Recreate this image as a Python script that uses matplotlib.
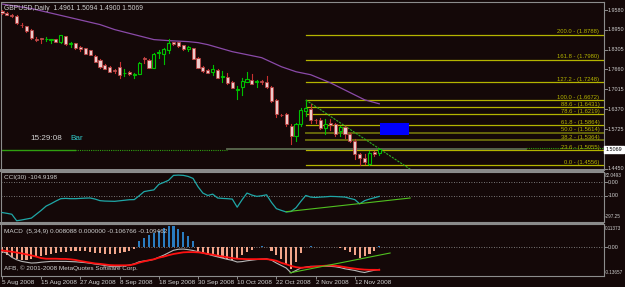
import matplotlib
matplotlib.use("Agg")
import matplotlib.pyplot as plt
from matplotlib.patches import Rectangle
import matplotlib.transforms as mtransforms
from matplotlib import font_manager

# ---------------- data ----------------
opens = [1.9564, 1.9499, 1.9433, 1.9384, 1.9100, 1.9057, 1.8927, 1.8640, 1.8665, 1.8630,
         1.8600, 1.8633, 1.8535, 1.8731, 1.8480, 1.8502, 1.8372, 1.8339, 1.8274, 1.8110,
         1.7980, 1.7816, 1.7751, 1.7653, 1.7751, 1.7545, 1.7588, 1.7490, 1.7522, 1.8020,
         1.7980, 1.7718, 1.8200, 1.8176, 1.8274, 1.8535, 1.8535, 1.8437, 1.8306, 1.8339,
         1.8045, 1.7751, 1.7653, 1.7588, 1.7653, 1.7420, 1.7424, 1.7261, 1.6990, 1.7098,
         1.7261, 1.7326, 1.7250, 1.7275, 1.7261, 1.7098, 1.6673, 1.6200, 1.6216, 1.5824,
         1.5498, 1.5889, 1.6314, 1.6379, 1.6030, 1.6020, 1.5759, 1.5922, 1.5889, 1.5661,
         1.5791, 1.5563, 1.5334, 1.4910, 1.4779, 1.4583, 1.4975, 1.4961]
highs = [1.9580, 1.9530, 1.9449, 1.9417, 1.9155, 1.9070, 1.8959, 1.8698, 1.8680, 1.8698,
         1.8640, 1.8650, 1.8780, 1.8750, 1.8535, 1.8520, 1.8404, 1.8360, 1.8290, 1.8130,
         1.8000, 1.7830, 1.7770, 1.7686, 1.7914, 1.7686, 1.7600, 1.7555, 1.7900, 1.8078,
         1.8000, 1.8208, 1.8274, 1.8339, 1.8633, 1.8550, 1.8550, 1.8450, 1.8404, 1.8360,
         1.8060, 1.7784, 1.7670, 1.7816, 1.7680, 1.7620, 1.7555, 1.7280, 1.7130, 1.7392,
         1.7588, 1.7522, 1.7326, 1.7326, 1.7457, 1.7130, 1.6690, 1.6216, 1.6240, 1.5889,
         1.5922, 1.6412, 1.6672, 1.6543, 1.6053, 1.6085, 1.6053, 1.6053, 1.5922, 1.5824,
         1.5824, 1.5596, 1.5400, 1.4942, 1.4910, 1.5007, 1.5007, 1.5094]
lows = [1.9449, 1.9410, 1.9360, 1.9123, 1.9025, 1.8880, 1.8633, 1.8567, 1.8502, 1.8567,
        1.8502, 1.8535, 1.8520, 1.8450, 1.8372, 1.8320, 1.8241, 1.8160, 1.8130, 1.7900,
        1.7720, 1.7660, 1.7570, 1.7555, 1.7392, 1.7457, 1.7480, 1.7392, 1.7510, 1.7882,
        1.7700, 1.7700, 1.8045, 1.7849, 1.8208, 1.8437, 1.8390, 1.8290, 1.8260, 1.8000,
        1.7700, 1.7588, 1.7540, 1.7490, 1.7370, 1.7261, 1.7196, 1.7050, 1.6706, 1.6836,
        1.7250, 1.7180, 1.7098, 1.7196, 1.7065, 1.6610, 1.6118, 1.6151, 1.5824, 1.5236,
        1.5334, 1.5824, 1.6151, 1.5922, 1.5922, 1.5726, 1.5563, 1.5693, 1.5498, 1.5498,
        1.5430, 1.5300, 1.4746, 1.4556, 1.4583, 1.4570, 1.4844, 1.4900]
closes = [1.9482, 1.9427, 1.9384, 1.9155, 1.9085, 1.8894, 1.8665, 1.8625, 1.8640, 1.8640,
          1.8633, 1.8560, 1.8763, 1.8469, 1.8500, 1.8339, 1.8306, 1.8176, 1.8143, 1.7914,
          1.7751, 1.7686, 1.7588, 1.7620, 1.7490, 1.7560, 1.7500, 1.7522, 1.7882, 1.8000,
          1.7718, 1.8176, 1.8210, 1.8306, 1.8502, 1.8470, 1.8404, 1.8306, 1.8372, 1.8012,
          1.7718, 1.7620, 1.7555, 1.7686, 1.7392, 1.7457, 1.7228, 1.7065, 1.7032, 1.7294,
          1.7359, 1.7196, 1.7270, 1.7255, 1.7098, 1.6641, 1.6216, 1.6190, 1.5889, 1.5498,
          1.5889, 1.6347, 1.6412, 1.6020, 1.6010, 1.5759, 1.5889, 1.5870, 1.5563, 1.5791,
          1.5563, 1.5334, 1.4910, 1.4779, 1.4648, 1.4942, 1.4910, 1.5069]

ma_idx = [0, 6, 13, 20, 23, 27, 31, 34, 38, 40, 42, 47, 53, 57, 60, 63, 67, 74, 77]
ma_vals = [1.9779, 1.9632, 1.9373, 1.9113, 1.8950, 1.8788, 1.8626, 1.8593, 1.8561, 1.8528,
           1.8463, 1.8236, 1.8041, 1.7749, 1.7586, 1.7489, 1.7229, 1.6677, 1.6547]

fib_levels = ["0.0", "23.6", "38.2", "50.0", "61.8", "78.6", "88.6", "100.0", "127.2", "161.8", "200.0"]
fib_prices = [1.4556, 1.5055, 1.5364, 1.5614, 1.5864, 1.6219, 1.6431, 1.6672, 1.7248, 1.7980, 1.8788]
fib_start = 62

price_ticks = [1.9580, 1.8950, 1.8305, 1.7660, 1.7015, 1.6370, 1.5725, 1.4450]
last_price = 1.5069

cci = [-226, -232, -239, -288, -282, -275, -268, -239, -210, -178,
       -160, -140, -122, -120, -122, -122, -120, -118, -117, -125,
       -137, -140, -141, -142, -138, -134, -130, -129, -100, -69,
       -62, -56, -15, 0, 16, 53, 55, 53, 45, 30,
       -32, -80, -98, -88, -117, -120, -122, -125, -186, -130,
       -80, -95, -105, -100, -93, -150, -197, -210, -222, -218,
       -190, -142, -98, -110, -113, -110, -108, -105, -106, -108,
       -110, -120, -129, -161, -137, -125, -115, -104.9198]
cci_trend_x = [58, 83.3]
cci_trend_y = [-220, -117]

macd_hist = [-0.027, -0.038, -0.048, -0.056, -0.062, -0.059, -0.054, -0.048, -0.040, -0.035,
             -0.030, -0.027, -0.022, -0.021, -0.019, -0.018, -0.019, -0.019, -0.021, -0.026,
             -0.029, -0.030, -0.032, -0.030, -0.026, -0.021, -0.016, -0.010, 0.029, 0.048,
             0.061, 0.072, 0.082, 0.093, 0.106, 0.102, 0.088, 0.074, 0.056, 0.032,
             -0.019, -0.026, -0.030, -0.037, -0.046, -0.051, -0.058, -0.062, -0.054, -0.035,
             -0.022, -0.013, 0.003, 0.005, 0.003, -0.019, -0.035, -0.056, -0.083, -0.107,
             -0.070, -0.027, 0.004, 0.005, 0.004, 0.004, 0.003, 0.003, 0.001, -0.001,
             -0.011, -0.020, -0.035, -0.051, -0.043, -0.032, -0.016, 0.008088]
macd_gray = [-0.020, -0.028, -0.048, -0.060, -0.068, -0.072, -0.076, -0.075, -0.072, -0.070,
             -0.068, -0.068, -0.068, -0.068, -0.069, -0.070, -0.072, -0.074, -0.077, -0.081,
             -0.084, -0.088, -0.092, -0.092, -0.092, -0.089, -0.086, -0.080, -0.070, -0.066,
             -0.064, -0.058, -0.048, -0.038, -0.026, -0.014, -0.009, -0.008, -0.011, -0.015,
             -0.021, -0.027, -0.033, -0.040, -0.046, -0.052, -0.058, -0.063, -0.071, -0.069,
             -0.065, -0.062, -0.059, -0.057, -0.056, -0.062, -0.076, -0.088, -0.100, -0.124,
             -0.112, -0.100, -0.096, -0.092, -0.092, -0.092, -0.092, -0.092, -0.094, -0.098,
             -0.104, -0.108, -0.112, -0.118, -0.122, -0.116, -0.111, -0.106766]
macd_red = [-0.015, -0.018, -0.021, -0.025, -0.029, -0.034, -0.039, -0.045, -0.052, -0.055,
            -0.055, -0.055, -0.056, -0.056, -0.058, -0.061, -0.066, -0.070, -0.074, -0.078,
            -0.080, -0.083, -0.086, -0.087, -0.087, -0.087, -0.087, -0.082, -0.074, -0.068,
            -0.062, -0.058, -0.050, -0.045, -0.038, -0.032, -0.028, -0.024, -0.023, -0.023,
            -0.024, -0.027, -0.032, -0.035, -0.040, -0.044, -0.048, -0.052, -0.055, -0.056,
            -0.057, -0.057, -0.057, -0.057, -0.057, -0.060, -0.065, -0.075, -0.082, -0.090,
            -0.096, -0.099, -0.097, -0.095, -0.093, -0.091, -0.089, -0.088, -0.089, -0.092,
            -0.096, -0.100, -0.103, -0.106, -0.108, -0.109, -0.109, -0.109462]
macd_trend_x = [58.8, 79.2]
macd_trend_y = [-0.1236, -0.0273]

date_idx = [0, 8, 16, 24, 32, 40, 48, 56, 64, 72]
date_labels = ["5 Aug 2008", "15 Aug 2008", "27 Aug 2008", "8 Sep 2008", "18 Sep 2008",
               "30 Sep 2008", "10 Oct 2008", "22 Oct 2008", "2 Nov 2008", "12 Nov 2008"]

# ---------------- styling ----------------
W, H = 625, 287
BG = '#140808'
GRID = '#8c8c8c'
TXT = '#d0d0d0'
FS = 4.6
plt.rcParams['font.family'] = ['Liberation Sans', 'DejaVu Sans']

_installed = {f.name for f in font_manager.fontManager.ttflist}
AXFAM = ['Liberation Sans Narrow'] if 'Liberation Sans Narrow' in _installed else ['Liberation Sans']
AXFS = 4.5 if AXFAM[0] == 'Liberation Sans Narrow' else 3.9
AXFS_LONG = 4.2 if AXFAM[0] == 'Liberation Sans Narrow' else 3.3

fig = plt.figure(figsize=(W / 100, H / 100), dpi=100, facecolor=BG)


def px_axes(l, t, r, b):
    a = fig.add_axes([l / W, 1 - b / H, (r - l) / W, (b - t) / H])
    a.set_facecolor(BG)
    for s in a.spines.values():
        s.set_color(GRID)
        s.set_linewidth(0.8)
    a.set_xlim(-0.2, 122.86)
    a.tick_params(axis='x', bottom=False, labelbottom=False)
    a.tick_params(axis='y', left=False, labelleft=False, right=False, labelright=False)
    return a


def ftext(x, y, s, **kw):
    fig.text(x / W, 1 - y / H, s, **kw)


def rlabel(a, tr, v, s, va='center', tick=True, fs=None, x=1.0065):
    if tick:
        a.plot([1.0, 1.005], [v, v], color=GRID, lw=0.7, transform=tr, clip_on=False)
    a.text(x, v, s, color=TXT, fontsize=fs or AXFS, family=AXFAM, ha='left', va=va,
           transform=tr, clip_on=False)


n = len(closes)
idx = list(range(n))

# ---------------- price panel ----------------
ax = px_axes(1, 1.5, 604, 169.5)
ax.set_ylim(1.4420, 1.9860)

ax.plot(ma_idx, ma_vals, color='#8a4aa8', lw=0.9, zorder=2)

XR = 122.86
for lv, pr in zip(fib_levels, fib_prices):
    dim = lv in ("50.0", "38.2")
    ax.plot([fib_start, XR], [pr, pr], color='#66660c' if dim else '#b4b400',
            lw=1.4 if dim else 0.9, zorder=1)
    ax.text(121.9, pr + 0.0012, f"{lv} - ({pr:.4f})", color='#b4b400', fontsize=FS - 0.4,
            ha='right', va='bottom', zorder=5)

ax.plot([fib_start, fib_start], [fib_prices[7], 1.6183], color='#10b010', lw=0.8, zorder=3)
ax.plot([fib_start, 83.7], [fib_prices[7], 1.4387], color='#30b020', lw=0.8,
        ls=(0, (2, 1)), zorder=3)

ax.add_patch(Rectangle((77.2, 1.5540), 5.9, 0.0390, facecolor='#0000ff', edgecolor='none', zorder=2))

ax.plot([-0.2, 15], [1.5040, 1.5040], color='#30a010', lw=1.0, zorder=1)
ax.plot([15, 46], [1.5040, 1.5040], color='#30a010', lw=0.8, ls=(0, (1, 1)), zorder=1)
ax.plot([46, 107], [1.5090, 1.5090], color='#5c6a50', lw=1.3, zorder=1)
ax.plot([107, XR], [1.5100, 1.5100], color='#30a010', lw=0.8, ls=(0, (1, 1)), zorder=1)

for i in idx:
    o, h, l, c = opens[i], highs[i], lows[i], closes[i]
    bull = c >= o
    ax.plot([i, i], [l, h], color='#00c000' if bull else '#c83030', lw=0.8, zorder=3)
    lo, hi = min(o, c), max(o, c)
    hgt = max(hi - lo, 0.0008)
    if bull:
        ax.add_patch(Rectangle((i - 0.32, lo), 0.64, hgt, facecolor=BG, edgecolor='#00c000',
                               lw=0.8, zorder=4))
    else:
        ax.add_patch(Rectangle((i - 0.32, lo), 0.64, hgt, facecolor='#eccaca', edgecolor='#b84040',
                               lw=0.6, zorder=4))

trans = mtransforms.blended_transform_factory(ax.transAxes, ax.transData)
for t in price_ticks:
    rlabel(ax, trans, t, f"{t:.4f}")
ax.text(1.003, last_price, f"{last_price:.4f}", color='black', fontsize=AXFS, family=AXFAM,
        ha='left', va='center', transform=trans, clip_on=False,
        bbox=dict(boxstyle='square,pad=0.25', fc='white', ec='white'))

ftext(4, 8, "GBPUSD,Daily  1.4961 1.5094 1.4900 1.5069", color=TXT, fontsize=FS + 0.3, va='center')
ftext(30, 139, "15:29:08", color=TXT, fontsize=FS + 1.3, va='center')
ftext(70, 139, "Bar", color='#30c8c8', fontsize=FS + 1.3, va='center')

# ---------------- CCI panel ----------------
ax2 = px_axes(1, 171.5, 604, 222)
ax2.set_ylim(-297.25, 82.05)
for lvl in (0, -100):
    ax2.axhline(lvl, color='#9a9a9a', lw=0.6, ls=(0, (1, 2)))
ax2.plot(idx, cci, color='#1fa7a7', lw=0.9, zorder=3)
ax2.plot(cci_trend_x, cci_trend_y, color='#50c020', lw=0.8, zorder=4)
trans2 = mtransforms.blended_transform_factory(ax2.transAxes, ax2.transData)
rlabel(ax2, trans2, 82.05 - 12, "82.0493", va='top', tick=False, fs=AXFS_LONG, x=1.002)
rlabel(ax2, trans2, 0, "0.00")
rlabel(ax2, trans2, -100, "-100")
rlabel(ax2, trans2, -297.25 + 22, "-297.25", va='bottom', tick=False, fs=AXFS_LONG, x=1.002)
ftext(4, 177, "CCI(30) -104.9198", color=TXT, fontsize=FS, va='center')

# ---------------- MACD panel ----------------
ax3 = px_axes(1, 224, 604, 275.5)
ax3.set_ylim(-0.13657, 0.11373)
ax3.axhline(0, color='#9a9a9a', lw=0.6, ls=(0, (1, 2)))
cols = ['#2a7cc0' if v > 0 else '#f2a58a' for v in macd_hist]
ax3.bar(idx, macd_hist, width=0.42, color=cols, zorder=2)
ax3.plot(idx, macd_gray, color='#b8b8b8', lw=0.8, zorder=3)
ax3.plot(idx, macd_red, color='#ff1010', lw=1.3, zorder=4)
ax3.plot(macd_trend_x, macd_trend_y, color='#50c020', lw=0.8, zorder=5)
trans3 = mtransforms.blended_transform_factory(ax3.transAxes, ax3.transData)
rlabel(ax3, trans3, 0.11373 - 0.012, "0.11373", va='top', tick=False, fs=AXFS_LONG, x=1.002)
rlabel(ax3, trans3, 0, "0.00")
rlabel(ax3, trans3, -0.13657 + 0.004, "-0.13657", va='bottom', tick=False, fs=AXFS_LONG, x=1.002)
ftext(4, 231, "MACD  (5,34,9) 0.008088 0.000000 -0.106766 -0.109462", color=TXT, fontsize=FS, va='center')
ftext(4, 268, "AFB, \u00a9 2001-2008 MetaQuotes Software Corp.", color=TXT, fontsize=FS, va='center')

ax3.set_xticks(date_idx)
ax3.set_xticklabels(date_labels)
ax3.tick_params(axis='x', bottom=True, labelbottom=True, length=2.5, color=GRID, width=0.7,
                labelsize=FS, labelcolor=TXT, pad=1.0)
for lab in ax3.get_xticklabels():
    lab.set_horizontalalignment('left')

for (y0, y1) in ((169, 172), (221.5, 224.5)):
    fig.add_artist(Rectangle((0, 1 - y1 / H), 604 / W, (y1 - y0) / H, transform=fig.transFigure,
                             facecolor='#8a8a8a', edgecolor='none'))

fig.savefig("out.png", dpi=100, facecolor=BG)
